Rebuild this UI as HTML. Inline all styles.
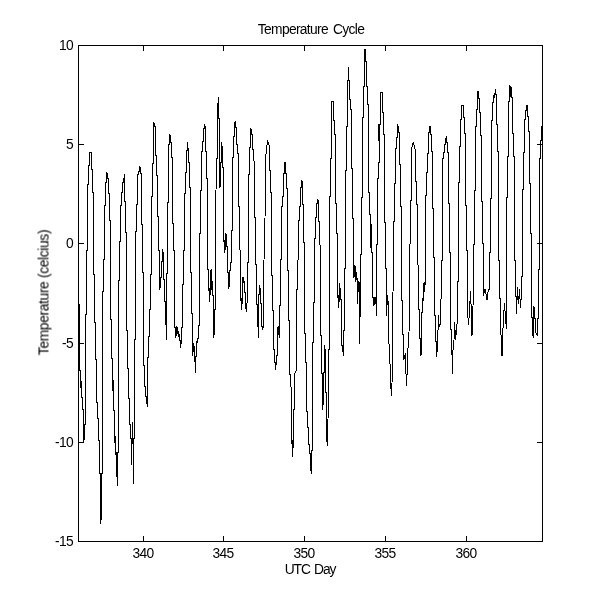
<!DOCTYPE html>
<html><head><meta charset="utf-8"><title>Temperature Cycle</title>
<style>
html,body{margin:0;padding:0;background:#fff;}
body{width:600px;height:610px;position:relative;overflow:hidden;-webkit-font-smoothing:antialiased;font-family:"Liberation Sans",sans-serif;font-size:13.8px;color:#000;}
.xt,.yt,#title,#xl,#yl span{will-change:transform;}
.xt{position:absolute;width:60px;text-align:center;line-height:15px;height:15px;letter-spacing:-0.6px}
.yt{position:absolute;left:0;width:73.2px;text-align:right;line-height:15px;height:15px;letter-spacing:-0.6px}
#title{position:absolute;left:161px;width:300px;text-align:center;top:21.5px;line-height:15px;letter-spacing:-0.66px;word-spacing:1.8px}
#xl{position:absolute;left:159.5px;width:300px;text-align:center;top:562px;line-height:15px;letter-spacing:-1.1px;word-spacing:1.6px}
#yl{position:absolute;left:44.2px;top:293px;width:0;height:0;}
#yl span{position:absolute;display:block;width:200px;left:-100px;top:-8px;height:15px;line-height:15px;text-align:center;transform:rotate(-90deg);transform-origin:50% 50%;white-space:nowrap;letter-spacing:-0.35px}
</style></head><body>
<svg width="600" height="610" viewBox="0 0 600 610" style="position:absolute;left:0;top:0" shape-rendering="crispEdges">
<polyline points="79.5,304.0 79.5,370.0 80.5,370.0 80.5,388.0 81.5,381.0 81.5,397.0 82.5,397.0 82.5,409.0 83.5,409.0 83.5,442.0 84.5,437.0 84.5,424.0 85.5,424.0 85.5,314.0 86.5,314.0 86.5,250.0 87.5,250.0 87.5,184.0 88.5,184.0 88.5,165.0 89.5,165.0 89.5,153.0 90.5,152.0 91.5,152.0 91.5,169.0 92.5,169.0 92.5,192.0 93.5,192.0 93.5,274.0 94.5,274.0 94.5,322.0 95.5,322.0 95.5,359.0 96.5,359.0 96.5,402.0 97.5,402.0 97.5,418.0 98.5,418.0 98.5,440.0 99.5,440.0 99.5,473.0 100.5,473.0 100.5,524.0 101.5,517.0 101.5,473.0 102.5,473.0 102.5,291.0 103.5,291.0 103.5,259.0 104.5,259.0 104.5,205.0 105.5,205.0 105.5,182.0 106.5,182.0 106.5,172.0 107.5,175.0 107.5,178.0 108.5,178.0 108.5,193.0 109.5,193.0 109.5,220.0 110.5,220.0 110.5,319.0 111.5,319.0 111.5,358.0 112.5,358.0 112.5,391.0 113.5,380.0 113.5,410.0 114.5,410.0 114.5,443.0 115.5,436.0 115.5,455.0 116.5,452.0 116.5,476.0 117.5,476.0 117.5,486.0 117.5,452.0 118.5,452.0 118.5,280.0 119.5,280.0 119.5,241.0 120.5,241.0 120.5,205.0 121.5,205.0 121.5,192.0 122.5,192.0 122.5,182.0 123.5,182.0 123.5,178.0 124.5,178.0 124.5,174.0 124.5,201.0 125.5,201.0 125.5,232.0 126.5,232.0 126.5,330.0 127.5,330.0 127.5,368.0 128.5,368.0 128.5,398.0 129.5,398.0 129.5,424.0 130.5,424.0 130.5,438.0 131.5,438.0 131.5,465.0 131.5,443.0 132.5,443.0 132.5,422.0 132.5,438.0 133.5,438.0 133.5,484.0 133.5,438.0 134.5,438.0 134.5,339.0 135.5,339.0 135.5,231.0 136.5,231.0 136.5,204.0 137.5,204.0 137.5,174.0 138.5,174.0 138.5,171.0 139.5,171.0 139.5,166.0 140.5,168.0 140.5,173.0 141.5,173.0 141.5,224.0 142.5,224.0 142.5,272.0 143.5,272.0 143.5,365.0 144.5,365.0 144.5,386.0 145.5,386.0 145.5,396.0 146.5,396.0 146.5,403.0 147.5,403.0 147.5,407.0 147.5,357.0 148.5,357.0 148.5,336.0 149.5,336.0 149.5,309.0 150.5,309.0 150.5,274.0 151.5,274.0 151.5,196.0 152.5,196.0 152.5,163.0 153.5,163.0 153.5,122.0 154.5,124.0 154.5,126.0 155.5,126.0 155.5,155.0 156.5,155.0 156.5,175.0 157.5,175.0 157.5,216.0 158.5,216.0 158.5,250.0 159.5,250.0 159.5,289.5 160.5,287.0 160.5,277.0 161.5,277.0 161.5,261.0 162.5,261.0 162.5,249.0 163.5,254.0 163.5,279.0 164.5,279.0 164.5,301.0 165.5,301.0 165.5,324.0 166.5,324.0 166.5,340.0 166.5,273.0 167.5,273.0 167.5,202.0 168.5,202.0 168.5,144.0 169.5,144.0 169.5,134.0 170.5,136.0 170.5,142.0 171.5,142.0 171.5,157.0 172.5,157.0 172.5,223.0 173.5,223.0 173.5,250.0 174.5,250.0 174.5,327.0 175.5,327.0 175.5,338.0 176.5,333.0 176.5,327.0 177.5,328.0 177.5,333.0 178.5,332.0 178.5,336.0 179.5,335.0 179.5,340.0 180.5,340.0 180.5,348.0 181.5,340.0 181.5,327.0 182.5,327.0 182.5,284.0 183.5,284.0 183.5,250.0 184.5,250.0 184.5,193.0 185.5,193.0 185.5,172.0 186.5,172.0 186.5,150.0 187.5,150.0 187.5,142.0 187.5,148.0 188.5,148.0 188.5,162.0 189.5,162.0 189.5,187.0 190.5,187.0 190.5,272.0 191.5,272.0 191.5,313.0 192.5,313.0 192.5,356.0 193.5,349.0 193.5,343.0 194.5,349.0 194.5,362.0 195.5,358.0 195.5,373.0 195.5,356.0 196.5,356.0 196.5,341.0 197.5,343.0 197.5,338.0 198.5,338.0 198.5,325.0 199.5,325.0 199.5,233.0 200.5,233.0 200.5,190.0 201.5,190.0 201.5,151.0 202.5,151.0 202.5,141.0 203.5,141.0 203.5,128.0 204.5,128.0 204.5,124.0 205.5,128.0 205.5,151.0 206.5,151.0 206.5,178.0 207.5,178.0 207.5,269.0 208.5,269.0 208.5,290.0 209.5,289.0 209.5,301.5 210.5,289.0 210.5,272.0 211.5,269.0 211.5,290.0 212.5,281.0 212.5,295.0 213.5,295.0 213.6,337.6 214.5,332.0 214.5,309.0 215.5,309.0 215.6,280.0 216.0,190.0 216.5,158.0 217.5,158.0 217.5,103.0 218.5,103.0 218.5,97.0 218.5,118.0 219.5,118.0 219.5,188.0 220.5,185.0 220.5,165.0 221.5,160.0 221.5,142.0 222.5,150.0 222.5,167.0 223.5,167.0 223.5,242.0 224.5,240.0 224.5,253.0 225.5,247.0 225.5,233.0 226.5,236.0 226.5,246.0 227.5,246.0 227.5,272.0 228.5,272.0 228.5,289.0 229.5,285.0 229.5,270.0 230.5,270.0 230.5,262.0 231.5,262.0 231.5,230.0 232.5,230.0 232.5,157.0 233.5,157.0 233.5,136.0 234.5,136.0 234.5,123.0 235.5,122.0 235.5,127.0 236.5,127.0 236.5,144.0 237.5,144.0 237.5,153.0 238.5,153.0 238.5,206.0 239.5,206.0 239.5,240.0 240.5,260.0 240.5,300.0 241.5,299.0 241.5,310.0 242.5,298.0 242.5,277.0 243.5,277.0 243.5,283.0 244.5,281.0 244.5,292.0 245.5,292.0 245.5,306.0 246.4,311.6 247.5,297.0 247.5,262.0 248.5,262.0 248.5,174.0 249.5,174.0 249.5,147.0 250.5,147.0 250.5,128.0 251.5,130.0 251.5,134.0 252.5,134.0 252.5,149.0 253.5,149.0 253.5,160.0 254.5,162.0 254.5,217.0 255.5,217.0 255.5,264.0 256.5,264.0 256.5,304.0 257.5,304.0 257.5,326.0 258.5,326.0 258.5,338.0 258.5,294.0 259.5,294.0 259.5,285.0 260.5,290.0 260.5,303.0 261.5,303.0 261.5,326.0 262.5,326.0 262.4,329.6 263.5,326.0 263.5,280.0 265.0,220.0 265.4,160.0 267.6,140.0 268.5,144.0 269.5,146.0 269.5,170.0 270.5,170.0 270.5,192.0 271.5,192.0 271.5,275.0 272.5,275.0 272.5,310.0 273.5,310.0 273.5,349.0 274.4,350.0 275.4,370.4 276.5,361.0 276.5,355.0 277.5,355.0 277.5,328.0 278.5,327.0 278.5,332.0 279.5,338.0 279.5,305.0 280.5,305.0 280.5,259.0 281.5,259.0 281.5,206.0 282.5,206.0 282.5,196.0 283.5,196.0 283.5,173.0 284.5,173.0 284.5,162.0 285.5,162.0 285.5,173.0 286.5,173.0 286.5,188.0 287.5,188.0 287.5,270.0 288.5,270.0 288.5,320.0 289.5,320.0 289.5,374.0 290.5,374.0 291.5,400.0 291.5,444.0 292.5,440.0 292.5,456.6 293.5,439.0 293.5,409.0 294.5,409.0 294.5,374.0 296.5,370.0 296.5,289.0 297.5,289.0 297.5,270.0 298.5,250.0 298.5,220.0 299.5,220.0 299.5,206.0 300.5,206.0 300.5,187.0 301.5,187.0 301.5,180.0 302.5,183.0 302.5,204.0 303.5,204.0 303.5,242.0 304.5,242.0 304.5,333.0 305.5,333.0 305.5,362.0 306.5,362.0 306.5,411.0 307.5,411.0 307.5,427.0 308.5,427.0 308.5,444.0 309.5,444.0 309.5,453.0 310.5,453.0 310.5,466.0 311.4,474.4 311.5,450.0 312.5,450.0 312.5,342.0 313.5,342.0 313.5,302.0 314.5,302.0 314.5,238.0 315.5,238.0 315.5,217.0 316.5,217.0 316.5,203.0 317.5,203.0 317.5,200.0 318.5,201.0 318.5,221.0 319.5,221.0 319.5,244.0 320.4,246.0 320.4,280.0 320.5,335.0 321.5,335.0 321.5,373.0 322.5,373.0 322.5,410.4 323.5,400.0 323.5,372.0 324.5,372.0 324.5,345.0 325.5,352.0 325.5,392.0 326.5,392.0 326.5,436.0 327.4,446.4 328.0,419.0 328.5,400.0 328.5,349.0 329.5,349.0 329.4,280.0 329.5,196.0 330.5,196.0 330.5,158.0 331.5,158.0 331.5,101.0 333.5,101.0 333.5,120.0 334.5,120.0 334.5,134.0 335.5,134.0 335.5,160.0 335.5,203.0 336.5,203.0 336.5,233.0 337.5,233.0 337.5,297.0 338.5,296.0 338.5,307.5 339.5,297.0 339.5,283.0 340.5,292.0 340.5,299.0 341.5,299.0 341.5,345.0 342.5,346.0 343.4,355.6 343.5,345.0 343.5,330.0 344.5,330.0 344.5,280.0 344.5,268.0 345.5,268.0 345.5,170.0 346.5,170.0 346.5,126.0 347.5,126.0 347.5,80.0 348.5,80.0 348.5,67.0 348.5,80.0 349.5,80.0 349.5,99.0 350.5,99.0 350.5,109.0 351.5,109.0 351.5,168.0 352.5,168.0 352.5,218.0 353.5,218.0 353.5,278.0 354.5,275.0 354.5,265.0 355.5,268.0 355.5,282.0 356.5,272.0 356.5,280.0 357.5,278.0 357.5,304.0 358.5,281.0 358.5,290.0 359.5,282.0 359.5,344.0 359.5,317.0 360.5,316.0 360.5,280.0 360.5,254.0 361.5,254.0 361.5,197.0 362.5,197.0 362.5,117.0 363.5,117.0 363.5,86.0 364.5,86.0 364.5,49.0 365.5,49.0 365.5,61.0 366.5,61.0 366.5,86.0 367.5,86.0 367.5,104.0 368.5,104.0 368.5,192.0 369.5,192.0 369.5,214.0 370.5,214.0 370.5,248.0 371.5,224.0 371.5,252.0 372.5,252.0 372.5,297.0 373.5,297.0 373.5,306.0 374.5,303.0 374.5,297.0 375.5,297.0 375.5,303.0 376.5,303.0 376.5,316.0 376.5,244.0 377.5,244.0 377.5,178.0 378.5,178.0 378.5,162.0 379.5,162.0 379.5,124.0 378.5,141.0 378.5,124.0 380.5,124.0 380.5,92.0 382.5,92.0 382.5,112.0 383.5,112.0 383.5,134.0 384.5,134.0 384.5,222.0 385.5,222.0 385.5,268.0 386.5,268.0 386.5,316.0 387.5,295.0 387.5,303.0 388.5,302.0 388.5,340.0 389.5,348.0 390.4,376.0 391.4,396.4 392.0,384.0 393.0,292.0 393.4,280.0 393.5,221.0 394.5,221.0 394.5,183.0 395.5,183.0 395.5,148.0 396.5,148.0 396.5,137.0 397.5,137.0 397.5,124.0 398.5,128.0 398.5,132.0 399.5,132.0 399.5,164.0 400.5,164.0 400.5,206.0 401.5,206.0 401.5,300.0 402.5,300.0 402.5,334.0 403.5,334.0 403.6,360.4 405.4,353.0 406.4,386.4 407.0,376.0 408.0,348.0 409.0,333.0 409.6,280.0 409.6,248.0 410.5,240.0 410.5,200.0 411.5,200.0 411.5,160.0 411.6,149.0 413.4,142.0 415.0,149.0 415.5,160.0 415.5,181.0 416.5,181.0 416.5,204.0 417.5,204.0 417.5,260.0 418.5,270.0 418.5,309.0 419.5,309.0 419.5,338.0 420.5,338.0 421.0,355.6 421.5,340.0 421.5,312.0 422.5,312.0 422.5,299.0 423.5,300.0 423.5,283.0 424.5,292.0 424.5,283.0 425.5,284.0 425.8,280.0 426.0,196.0 426.5,172.0 427.5,172.0 427.5,153.0 428.5,153.0 428.5,132.0 429.5,132.0 429.5,126.0 430.5,126.0 430.5,134.0 431.5,134.0 431.5,151.0 432.5,151.0 432.5,208.0 433.5,208.0 433.5,257.0 434.5,257.0 434.5,315.0 435.5,316.0 435.5,341.0 436.5,342.0 436.5,357.0 437.5,348.0 437.5,331.0 438.5,329.0 438.5,315.0 439.2,327.0 440.5,323.0 440.5,300.0 441.5,298.0 441.5,260.0 442.5,260.0 442.5,158.0 443.5,158.0 443.5,152.0 444.5,152.0 444.5,144.0 445.5,144.0 445.5,138.0 446.5,138.0 446.5,136.0 446.5,142.0 447.5,142.0 447.5,152.0 448.5,152.0 448.5,203.0 449.5,203.0 449.5,252.0 450.5,252.0 450.5,329.0 451.5,329.0 452.4,374.4 453.0,350.0 454.0,340.0 454.6,322.0 455.6,340.0 457.5,318.0 457.5,281.0 458.5,281.0 458.5,182.0 459.5,182.0 459.5,146.0 460.5,146.0 460.5,119.0 461.5,119.0 461.5,105.5 463.4,105.5 463.5,117.0 464.5,117.0 464.5,133.0 465.5,133.0 465.5,205.0 466.5,205.0 466.5,250.0 467.5,250.0 467.5,280.0 468.0,318.0 468.6,325.0 470.6,291.0 472.0,335.6 473.0,306.0 473.5,280.0 473.5,244.0 474.5,244.0 474.5,190.0 475.5,190.0 475.5,126.0 476.5,126.0 476.5,109.0 477.5,109.0 477.5,91.4 478.5,92.0 478.5,98.0 479.5,98.0 479.5,112.0 480.5,112.0 480.5,135.0 481.5,135.0 481.5,201.0 482.5,201.0 482.5,243.0 483.5,243.0 483.5,295.6 485.0,289.0 487.0,299.6 488.5,289.0 489.5,289.0 489.5,252.0 490.5,252.0 490.5,198.0 491.5,198.0 491.5,120.0 492.5,120.0 492.5,102.0 493.5,102.0 493.5,96.0 494.5,97.0 494.5,93.0 495.5,93.0 495.5,89.0 495.5,94.0 496.5,94.0 496.5,124.0 497.5,124.0 497.5,151.0 498.5,151.0 498.5,260.0 499.5,260.0 499.5,298.0 500.5,298.0 500.6,326.0 502.0,356.4 503.0,328.0 504.4,303.0 506.4,329.0 506.5,280.0 506.5,197.0 507.5,197.0 507.5,156.0 508.5,156.0 508.5,101.0 509.5,101.0 509.5,85.0 510.5,87.0 510.5,97.0 511.5,87.0 511.5,97.0 512.5,97.0 512.5,133.0 513.5,133.0 513.5,156.0 514.5,156.0 514.5,260.0 515.5,260.0 515.5,296.0 516.5,297.0 516.5,314.0 517.5,287.0 518.5,304.0 519.5,289.0 520.5,308.0 521.5,293.0 521.5,276.0 522.5,276.0 522.5,189.0 523.5,189.0 523.5,152.0 524.5,152.0 524.5,119.0 525.5,119.0 525.5,110.0 526.5,110.0 526.5,105.4 527.5,106.0 527.5,116.0 528.5,116.0 528.5,131.0 529.5,131.0 529.5,183.0 530.5,183.0 530.5,233.0 531.5,233.0 531.5,317.0 532.5,318.0 532.5,334.0 533.5,338.0 533.5,307.0 534.5,308.0 534.5,318.0 535.5,319.0 535.5,332.0 536.5,334.0 537.5,336.0 537.5,319.0 538.5,318.0 538.5,269.0 539.5,269.0 539.5,158.0 540.5,158.0 540.5,140.0 541.5,140.0 541.5,126.0" fill="none" stroke="#000" stroke-width="1" stroke-linejoin="miter"/>
<rect x="78.5" y="45.5" width="464" height="496" fill="none" stroke="#000" stroke-width="1"/>
<line x1="143.5" y1="541.5" x2="143.5" y2="536" stroke="#000"/>
<line x1="143.5" y1="45.5" x2="143.5" y2="51" stroke="#000"/>
<line x1="223.5" y1="541.5" x2="223.5" y2="536" stroke="#000"/>
<line x1="223.5" y1="45.5" x2="223.5" y2="51" stroke="#000"/>
<line x1="304.5" y1="541.5" x2="304.5" y2="536" stroke="#000"/>
<line x1="304.5" y1="45.5" x2="304.5" y2="51" stroke="#000"/>
<line x1="385.5" y1="541.5" x2="385.5" y2="536" stroke="#000"/>
<line x1="385.5" y1="45.5" x2="385.5" y2="51" stroke="#000"/>
<line x1="466.5" y1="541.5" x2="466.5" y2="536" stroke="#000"/>
<line x1="466.5" y1="45.5" x2="466.5" y2="51" stroke="#000"/>
<line x1="78.5" y1="45.5" x2="84" y2="45.5" stroke="#000"/>
<line x1="542.5" y1="45.5" x2="537" y2="45.5" stroke="#000"/>
<line x1="78.5" y1="144.5" x2="84" y2="144.5" stroke="#000"/>
<line x1="542.5" y1="144.5" x2="537" y2="144.5" stroke="#000"/>
<line x1="78.5" y1="243.5" x2="84" y2="243.5" stroke="#000"/>
<line x1="542.5" y1="243.5" x2="537" y2="243.5" stroke="#000"/>
<line x1="78.5" y1="343.5" x2="84" y2="343.5" stroke="#000"/>
<line x1="542.5" y1="343.5" x2="537" y2="343.5" stroke="#000"/>
<line x1="78.5" y1="442.5" x2="84" y2="442.5" stroke="#000"/>
<line x1="542.5" y1="442.5" x2="537" y2="442.5" stroke="#000"/>
<line x1="78.5" y1="541.5" x2="84" y2="541.5" stroke="#000"/>
<line x1="542.5" y1="541.5" x2="537" y2="541.5" stroke="#000"/>
</svg>
<div id="title">Temperature Cycle</div>
<div id="xl">UTC Day</div>
<div id="yl"><span>Temperature (celcius)</span></div>
<div class="xt" style="left:112.8px;top:546px">340</div>
<div class="xt" style="left:192.8px;top:546px">345</div>
<div class="xt" style="left:273.8px;top:546px">350</div>
<div class="xt" style="left:354.8px;top:546px">355</div>
<div class="xt" style="left:435.8px;top:546px">360</div>
<div class="yt" style="top:38px">10</div>
<div class="yt" style="top:137px">5</div>
<div class="yt" style="top:236px">0</div>
<div class="yt" style="top:336px">-5</div>
<div class="yt" style="top:435px">-10</div>
<div class="yt" style="top:534px">-15</div>
</body></html>
